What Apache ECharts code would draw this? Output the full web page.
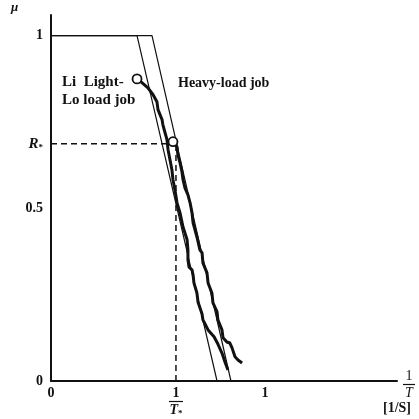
<!DOCTYPE html>
<html>
<head>
<meta charset="utf-8">
<style>
  html, body { margin: 0; padding: 0; background: #fff; }
  #chart { width: 419px; height: 419px; }
</style>
<script src="https://cdn.jsdelivr.net/npm/echarts@6/dist/echarts.min.js"></script>
</head>
<body>
<div id="chart"></div>
<script>
// values (x in 1/s, y = mu)
const rStar = 0.687;
const invTStar = 0.584;
const yTicks = [0, 0.5, rStar, 1];
const xTicks = [0, invTStar, 1];

// straight (theoretical) lines
const lightLine = [[0, 1], [0.402, 1], [0.776, 0]];
const heavyLine = [[0, 1], [0.472, 1], [0.841, 0]];

// measured curves
const lightCurve = [
  [0.402, 0.875], [0.425, 0.864], [0.453, 0.849], [0.477, 0.829], [0.495, 0.809],
  [0.500, 0.786], [0.519, 0.757], [0.523, 0.742], [0.533, 0.719], [0.542, 0.699],
  [0.547, 0.670], [0.556, 0.641], [0.565, 0.612], [0.570, 0.583], [0.579, 0.554],
  [0.589, 0.516], [0.603, 0.487], [0.617, 0.446], [0.636, 0.409], [0.640, 0.380],
  [0.640, 0.351], [0.645, 0.330], [0.659, 0.322], [0.664, 0.307], [0.668, 0.284],
  [0.682, 0.255], [0.687, 0.229], [0.696, 0.212], [0.706, 0.194], [0.710, 0.177],
  [0.720, 0.165], [0.734, 0.148], [0.762, 0.128], [0.780, 0.107], [0.799, 0.081],
  [0.813, 0.055], [0.827, 0.032]
];
const heavyCurve = [
  [0.570, 0.693], [0.589, 0.678], [0.593, 0.655], [0.603, 0.632], [0.612, 0.606],
  [0.617, 0.583], [0.626, 0.559], [0.640, 0.539], [0.650, 0.516], [0.659, 0.487],
  [0.664, 0.458], [0.682, 0.417], [0.696, 0.380], [0.706, 0.371], [0.710, 0.342],
  [0.729, 0.313], [0.734, 0.284], [0.752, 0.255], [0.757, 0.226], [0.776, 0.200],
  [0.780, 0.177], [0.799, 0.148], [0.804, 0.125], [0.822, 0.113], [0.836, 0.110],
  [0.846, 0.096], [0.860, 0.070], [0.874, 0.061], [0.893, 0.052]
];

const FONT = '"Liberation Serif", "DejaVu Serif", serif';
const INK = '#111';

const chart = echarts.init(document.getElementById('chart'));

function thin(data) {
  return {
    type: 'line', data, symbol: 'none', silent: true,
    lineStyle: { color: INK, width: 1.2 }
  };
}

function thick(data) {
  return {
    type: 'line', data, symbol: 'none', silent: true,
    lineStyle: { color: INK, width: 3, join: 'round' }
  };
}

function dashed(data) {
  return {
    type: 'line', data, symbol: 'none', silent: true,
    lineStyle: { color: INK, width: 1.5, type: [6, 4] }
  };
}

chart.setOption({
  animation: false,
  grid: { left: 51, right: 22, top: 15, bottom: 38, containLabel: false },
  xAxis: {
    type: 'value', min: 0, max: 1.617,
    axisLine: { show: true, lineStyle: { color: INK, width: 2 } },
    axisTick: { show: false },
    splitLine: { show: false },
    axisLabel: {
      customValues: xTicks,
      margin: 5,
      color: INK,
      fontFamily: FONT,
      fontSize: 14,
      fontWeight: 'bold',
      formatter: (v) => (v === invTStar ? '{n|1}\n{bar|}\n{d|T}{s|*}' : String(v)),
      rich: {
        n: { fontFamily: FONT, fontSize: 14, fontWeight: 'bold', color: INK, align: 'center', lineHeight: 14 },
        bar: { width: 14, height: 1.2, backgroundColor: INK, align: 'center', lineHeight: 3 },
        d: { fontFamily: FONT, fontSize: 14, fontStyle: 'italic', color: INK, lineHeight: 15 },
        s: { fontFamily: FONT, fontSize: 9, fontWeight: 'bold', color: INK, verticalAlign: 'bottom', lineHeight: 15 }
      }
    },
    name: '{n|1}\n{bar|}\n{d|T}',
    nameLocation: 'end',
    nameGap: 6,
    nameTextStyle: {
      padding: [8, 0, 0, 0],
      rich: {
        n: { fontFamily: FONT, fontSize: 14, color: INK, align: 'center', lineHeight: 14 },
        bar: { width: 12, height: 1.2, backgroundColor: INK, align: 'center', lineHeight: 3 },
        d: { fontFamily: FONT, fontSize: 14, fontStyle: 'italic', color: INK, align: 'center', lineHeight: 15 }
      }
    }
  },
  yAxis: {
    type: 'value', min: 0, max: 1.06,
    axisLine: { show: true, lineStyle: { color: INK, width: 2 } },
    axisTick: { show: false },
    splitLine: { show: false },
    axisLabel: {
      customValues: yTicks,
      margin: 8,
      color: INK,
      fontFamily: FONT,
      fontSize: 14,
      fontWeight: 'bold',
      formatter: (v) => (v === rStar ? '{r|R}{s|*}' : String(v)),
      rich: {
        r: { fontFamily: FONT, fontSize: 15, fontStyle: 'italic', color: INK },
        s: { fontFamily: FONT, fontSize: 9, fontWeight: 'bold', color: INK, verticalAlign: 'bottom', padding: [8, 0, 0, 0] }
      }
    }
  },
  series: [
    thin(lightLine),
    thin(heavyLine),
    dashed([[0, rStar], [heavyCurve[0][0], rStar]]),
    dashed([[invTStar, 0], [invTStar, rStar]]),
    thick(lightCurve),
    thick(heavyCurve),
    {
      type: 'scatter', silent: true,
      data: [lightCurve[0], heavyCurve[0]],
      symbol: 'circle', symbolSize: 9,
      itemStyle: { color: '#fff', borderColor: INK, borderWidth: 1.8, opacity: 1 },
      z: 5
    }
  ],
  graphic: [
    { type: 'text', left: 11, top: 1, style: { text: 'μ', font: 'italic bold 13px ' + FONT, fill: INK } },
    { type: 'text', left: 62, top: 75, style: { text: 'Li  Light-', font: 'bold 15px ' + FONT, fill: INK } },
    { type: 'text', left: 62, top: 93, style: { text: 'Lo load job', font: 'bold 15px ' + FONT, fill: INK } },
    { type: 'text', left: 178, top: 76, style: { text: 'Heavy-load job', font: 'bold 14px ' + FONT, fill: INK } },
    { type: 'text', left: 383, top: 401, style: { text: '[1/S]', font: 'bold 14px ' + FONT, fill: INK } }
  ]
});
</script>
</body>
</html>
